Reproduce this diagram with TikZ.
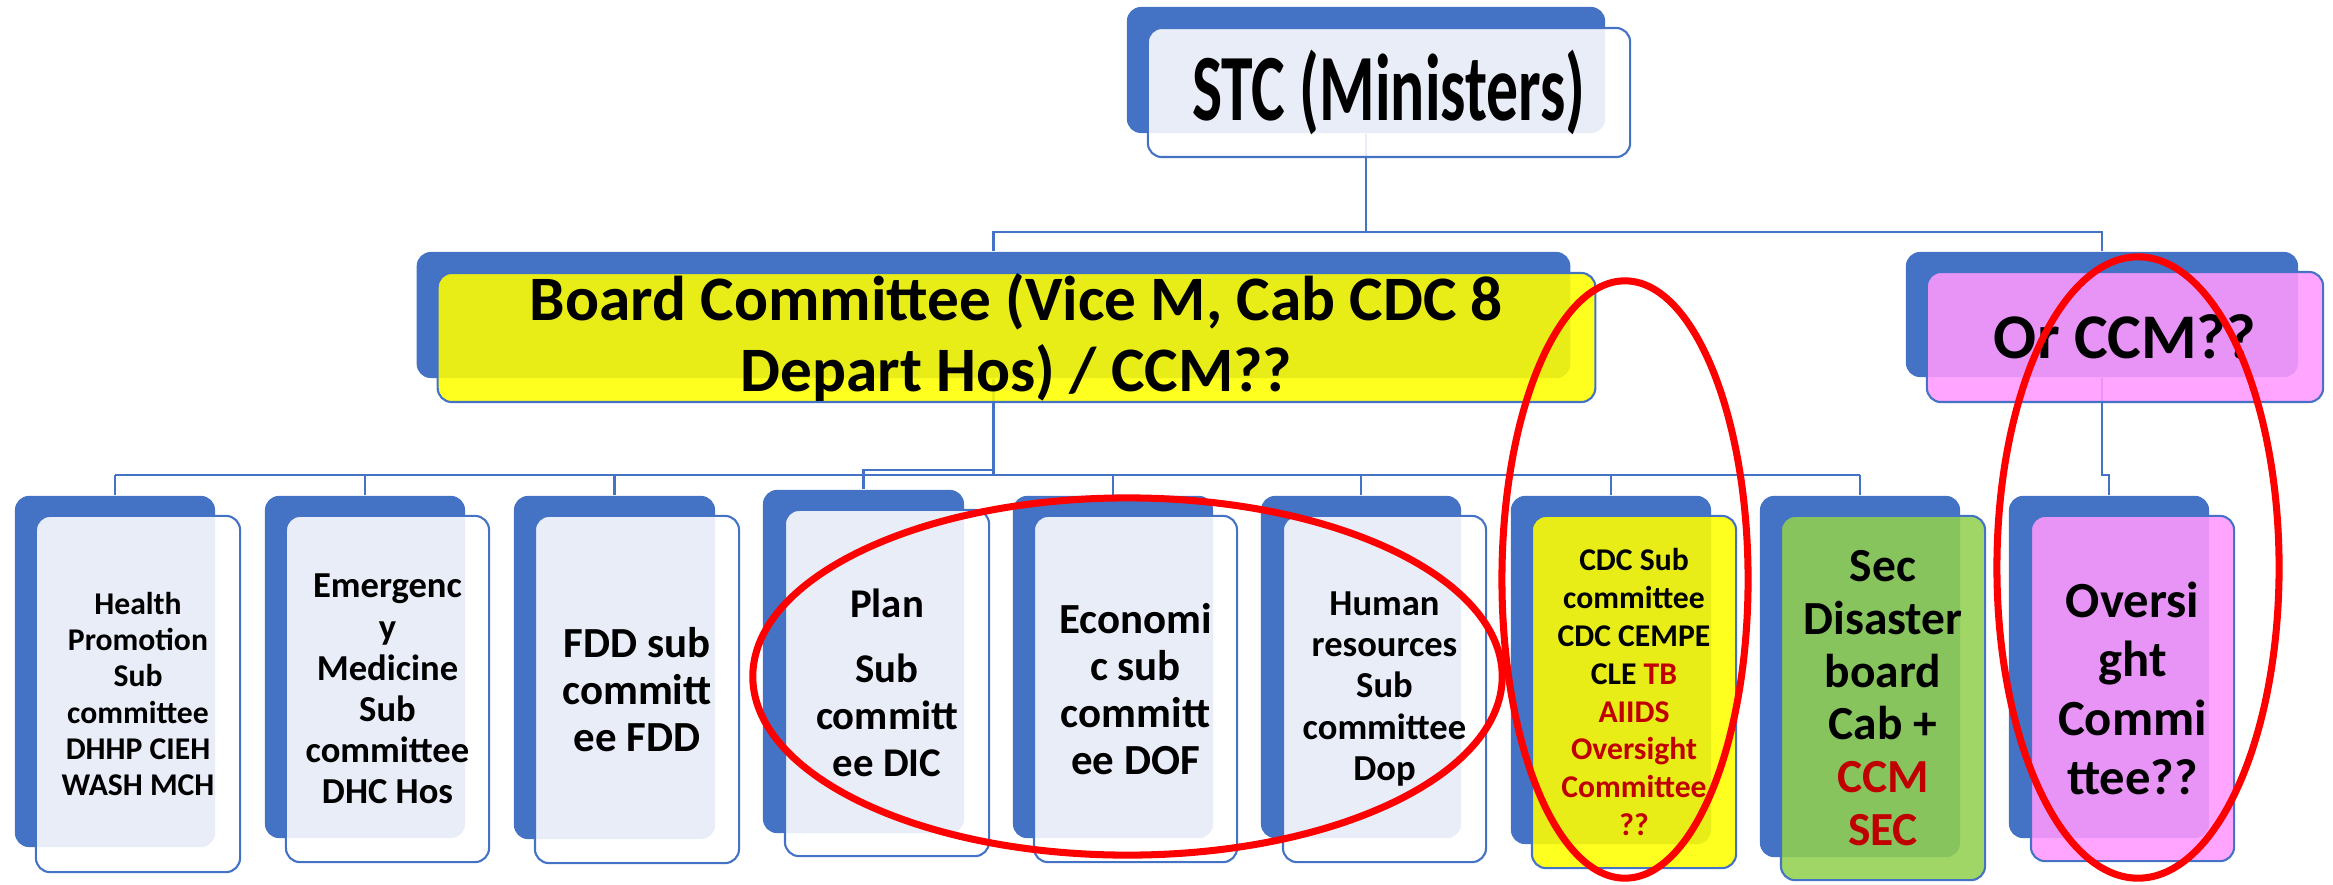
\documentclass[tikz,border=0pt]{standalone}
\usepackage{fontspec}
\setmainfont{Carlito}
\usepackage{graphicx}
\usepackage{tikz}
\usepackage{xcolor}
\usetikzlibrary{
    positioning,
    backgrounds
}
\definecolor{smblue}{HTML}{4472C4}
\definecolor{textred}{HTML}{C00000}
\definecolor{ringred}{HTML}{FF0000}
\definecolor{pinkfill}{HTML}{FF99FF}
\definecolor{greenfill}{HTML}{92D050}
\definecolor{yellowfill}{HTML}{FFFF00}

\begin{document}
\begin{tikzpicture}[x=0.01cm, y=-0.01cm,
    back/.style={fill=smblue, rounded corners=4pt, inner sep=0pt},
    front/.style={fill=white, fill opacity=0.88, text opacity=1, draw=smblue,
        line width=0.6pt, rounded corners=4pt, inner sep=0pt, align=center},
    txt/.style 2 args={font=\fontsize{#1}{#2}\selectfont\bfseries},
    link/.style={draw=smblue, line width=0.6pt},
    ring/.style={draw=ringred, line width=2pt}]
    \useasboundingbox (0,0) rectangle (2333,884);

    % top level
    \node[back, minimum width=4.78cm, minimum height=1.26cm] (stcb) at (1366,70) {};
    \node[front, minimum width=4.82cm, minimum height=1.29cm, txt={27}{32}] (stc) at (1389,92.5)
        {\raisebox{3pt}{\scalebox{0.67}[1]{STC (Ministers)}}};

    % second level
    \node[back, minimum width=11.53cm, minimum height=1.26cm] (boardb) at (993.5,315) {};
    \node[front, fill=yellowfill, minimum width=11.57cm, minimum height=1.29cm, txt={18}{20.2}] (board) at (1016.5,337.5)
        {Board Committee (Vice M, Cab CDC 8\\Depart Hos) / CCM??};
    \node[back, minimum width=3.92cm, minimum height=1.25cm] (orb) at (2102,314.5) {};
    \node[front, fill=pinkfill, minimum width=3.96cm, minimum height=1.30cm, txt={18.1}{22}] (orccm) at (2125,337) {Or CCM??};

    % sub committees
    \node[back, minimum width=2cm, minimum height=3.51cm] (hpb) at (115,671.5) {};
    \node[front, minimum width=2.04cm, minimum height=3.56cm, txt={9}{10.3}] (hp) at (138,694)
        {Health\\Promotion\\Sub\\committee\\DHHP CIEH\\WASH MCH};

    \node[back, minimum width=2cm, minimum height=3.42cm] (emb) at (365,667) {};
    \node[front, minimum width=2.03cm, minimum height=3.46cm, txt={10.4}{11.7}] (em) at (387.5,689)
        {Emergenc\\y\\Medicine\\Sub\\committee\\DHC Hos};

    \node[back, minimum width=2.01cm, minimum height=3.43cm] (fddb) at (614.5,667.5) {};
    \node[front, minimum width=2.04cm, minimum height=3.47cm, txt={12.2}{13.4}] (fdd) at (637,689.5)
        {FDD sub\\committ\\ee FDD};

    \node[back, minimum width=2.01cm, minimum height=3.43cm] (planb) at (863.5,661.5) {};
    \node[front, minimum width=2.04cm, minimum height=3.46cm, txt={11.6}{13.4}] (plan) at (887,683)
        {Plan\\[5pt]Sub\\committ\\ee DIC};

    \node[back, minimum width=2cm, minimum height=3.42cm] (ecb) at (1113,667) {};
    \node[front, minimum width=2.03cm, minimum height=3.46cm, txt={12.2}{13.4}] (ec) at (1135.5,689)
        {Economi\\c sub\\committ\\ee DOF};

    \node[back, minimum width=2cm, minimum height=3.42cm] (hrb) at (1361,667) {};
    \node[front, minimum width=2.03cm, minimum height=3.46cm, txt={10.4}{11.8}] (hr) at (1384.5,689)
        {Human\\resources\\Sub\\committee\\Dop};

    \node[back, minimum width=2cm, minimum height=3.48cm] (cdcb) at (1611,670) {};
    \node[front, fill=yellowfill, minimum width=2.04cm, minimum height=3.52cm, txt={9}{10.8}] (cdc) at (1634,692)
        {CDC Sub\\committee\\CDC CEMPE\\CLE \textcolor{textred}{TB}\\\textcolor{textred}{AIIDS}\\
         \textcolor{textred}{Oversight}\\\textcolor{textred}{Committee}\\\textcolor{textred}{??}};

    \node[back, minimum width=2cm, minimum height=3.61cm] (secb) at (1860,676.5) {};
    \node[front, fill=greenfill, minimum width=2.04cm, minimum height=3.64cm, txt={13.5}{15}] (sec) at (1883,698)
        {Sec\\Disaster\\board\\Cab +\\\textcolor{textred}{CCM}\\\textcolor{textred}{SEC}};

    \node[back, minimum width=2cm, minimum height=3.42cm] (ovb) at (2109,667) {};
    \node[front, fill=pinkfill, minimum width=2.03cm, minimum height=3.45cm, txt={14.4}{16.8}] (ov) at (2132.5,688.5)
        {Oversi\\ght\\Commi\\ttee??};

    % connectors
    \coordinate (topbus) at (0,232);
    \coordinate (midbus) at (0,475);
    \coordinate (stepbus) at (0,470);
    \begin{scope}[on background layer]
        \draw[link] (stcb.south) -- (stcb.south |- topbus) -| (boardb.north);
        \draw[link] (stcb.south |- topbus) -| (orb.north);
        \draw[link] (boardb.south) -- (boardb.south |- midbus);
        \draw[link] (hpb.north |- midbus) -- (secb.north |- midbus);
        \foreach \n in {hpb,emb,fddb,ecb,hrb,cdcb,secb}
            \draw[link] (\n.north |- midbus) -- (\n.north);
        \draw[link] (boardb.south |- stepbus) -| (planb.north);
        \draw[link] (orb.south) -- (orb.south |- midbus) -| (ovb.north);
    \end{scope}

    % red marks
    \draw[ring] (1127.5,676.5) ellipse [x radius=3.745cm, y radius=1.785cm];
    \draw[ring] (1625,579.5) ellipse [x radius=1.23cm, y radius=2.985cm];
    \draw[ring] (2138,567.5) ellipse [x radius=1.41cm, y radius=3.105cm];
\end{tikzpicture}
\end{document}
